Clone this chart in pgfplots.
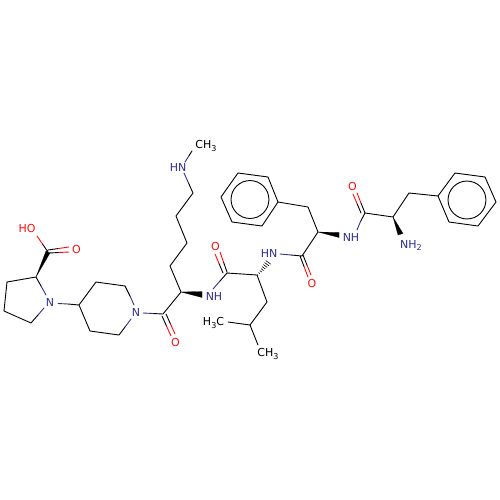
\documentclass[border=0pt]{standalone}
\usepackage{pgfplots}
\pgfplotsset{compat=1.18}
\usepackage{fontspec}
\setmainfont{DejaVu Sans}
\definecolor{nblue}{HTML}{303090}
\definecolor{ored}{HTML}{FF0D0D}
\newcommand{\sub}[1]{\raisebox{-0.35ex}{\fontsize{8}{8}\selectfont #1}}
\newcommand{\atom}[4]{\node[text=#1,inner sep=0pt,font=\fontsize{11}{11}\selectfont,anchor=center] at (axis cs:#2,#3) {#4};}
\begin{document}
\begin{tikzpicture}
\begin{axis}[
  scale only axis, width=500pt, height=500pt,
  xmin=0, xmax=500, ymin=0, ymax=500, y dir=reverse,
  hide axis, clip=false, unbounded coords=jump,
  every axis plot/.append style={line width=0.9pt, line cap=round, line join=round, mark=none},
]
\path[fill=white] (axis cs:0,0) rectangle (axis cs:500,500);
% black bonds
\addplot[black] coordinates {
(41,286)(36,277)(7,282)(4,311)(31,323)(38,315) (nan,nan)
(68,304)(79,305)(96,282)(125,286)(130,296) (nan,nan)
(125,327)(119,335)(90,331)(79,305) (nan,nan)
(153,313.5)(163,314)(181,292)(170,266)(187,243)(176,216)(193,193)(188.5,183) (nan,nan)
(188.5,156.5)(192,151) (nan,nan)
(220,281)(227,273)(257,275)(267,302)(250,325)(254,335) (nan,nan)
(258,345)(250,325)(228,322) (nan,nan)
(291,255)(302,256)(318,232)(308,207)(278,202)(262,226)(232,222)(221,197)(238,173)(268,177)(278,202) (nan,nan)
(360.5,221.5)(365,213)(393,217)(409,193)(438,196)(449,222)(478,226)(496,202)(485,177)(455,173)(438,196) (nan,nan)
(48,252)(42.5,244) (nan,nan)
(48,250)(58.5,248.5) (nan,nan)
(49,253)(59,252.5) (nan,nan)
(162,316)(166.5,326) (nan,nan)
(166,314)(170.5,324) (nan,nan)
(223,273)(219,263.5) (nan,nan)
(227,272)(223.5,262) (nan,nan)
(300,256)(304,266.5) (nan,nan)
(303,255)(307,265) (nan,nan)
(361,213)(357,203.5) (nan,nan)
(365,213)(361,203)
};
% nitrogen halves
\addplot[nblue] coordinates {
(41,286)(46,295) (nan,nan)
(38,315)(44,308) (nan,nan)
(58,303.5)(68,304) (nan,nan)
(130,296)(134,305) (nan,nan)
(125,327)(131,319) (nan,nan)
(143,313)(153,313.5) (nan,nan)
(188.5,183)(184,173) (nan,nan)
(185,162)(188.5,156.5) (nan,nan)
(213,289)(220,281) (nan,nan)
(280,254)(291,255) (nan,nan)
(357,230)(360.5,221.5)
};
% oxygen halves
\addplot[ored] coordinates {
(42.5,244)(37,236) (nan,nan)
(58.5,248.5)(69,247) (nan,nan)
(59,252.5)(69,252) (nan,nan)
(166.5,326)(171,336) (nan,nan)
(170.5,324)(175,334) (nan,nan)
(219,263.5)(215,254) (nan,nan)
(223.5,262)(220,252) (nan,nan)
(304,266.5)(308,277) (nan,nan)
(307,265)(311,275) (nan,nan)
(357,203.5)(353,194) (nan,nan)
(361,203)(357,193)
};
% wedges
\addplot[black,fill=black,line width=0.2pt] coordinates {(36,277)(46,251)(50,253)(36,277)};
\addplot[black,fill=black,line width=0.2pt] coordinates {(181,292)(202,291.5)(202,297.5)(181,292)};
\addplot[black,fill=black,line width=0.2pt] coordinates {(318,232)(339,232.5)(339,237.5)(318,232)};
\addplot[black,fill=black,line width=0.2pt] coordinates {(393,217)(398,235)(403,233.5)(393,217)};
% hashed wedge
\addplot[black,line width=0.6pt,line cap=butt] coordinates {
(257.5,274.5)(258,275.3) (nan,nan)
(258.6,272.6)(260,273.7) (nan,nan)
(259.8,270.6)(261.8,272.1) (nan,nan)
(261,268.6)(263.6,270.6) (nan,nan)
(262.2,266.6)(265.4,269) (nan,nan)
(263.4,264.6)(267.2,267.4) (nan,nan)
(264.6,262.6)(269,265.8) (nan,nan)
(265.8,260.6)(270.8,264.2)
};
% aromatic rings
\addplot[black,smooth] coordinates {
(269,199.5)(267.55,206.77)(263.43,212.93)(257.27,217.05)(250,218.5)(242.73,217.05)(236.57,212.93)(232.45,206.77)
(231,199.5)(232.45,192.23)(236.57,186.07)(242.73,181.95)(250,180.5)(257.27,181.95)(263.43,186.07)(267.55,192.23)(269,199.5)};
\addplot[black,smooth] coordinates {
(486,200)(484.55,207.27)(480.43,213.43)(474.27,217.55)(467,219)(459.73,217.55)(453.57,213.43)(449.45,207.27)
(448,200)(449.45,192.73)(453.57,186.57)(459.73,182.45)(467,181)(474.27,182.45)(480.43,186.57)(484.55,192.73)(486,200)};
% atom labels
\atom{ored}{27}{228}{HO}
\atom{ored}{76.5}{249.5}{O}
\atom{nblue}{50}{302.5}{N}
\atom{nblue}{136}{312.5}{N}
\atom{ored}{175.5}{342}{O}
\atom{nblue}{214}{296}{NH}
\atom{nblue}{178}{167}{HN}
\atom{black}{206}{146}{CH\sub{3}}
\atom{ored}{215.5}{246}{O}
\atom{nblue}{269}{253}{HN}
\atom{black}{213.5}{323}{H\sub{3}C}
\atom{black}{268}{354}{CH\sub{3}}
\atom{ored}{312}{283}{O}
\atom{nblue}{351}{237}{NH}
\atom{ored}{352.5}{186.5}{O}
\atom{nblue}{411}{245.5}{NH\sub{2}}
\end{axis}
\end{tikzpicture}
\end{document}
